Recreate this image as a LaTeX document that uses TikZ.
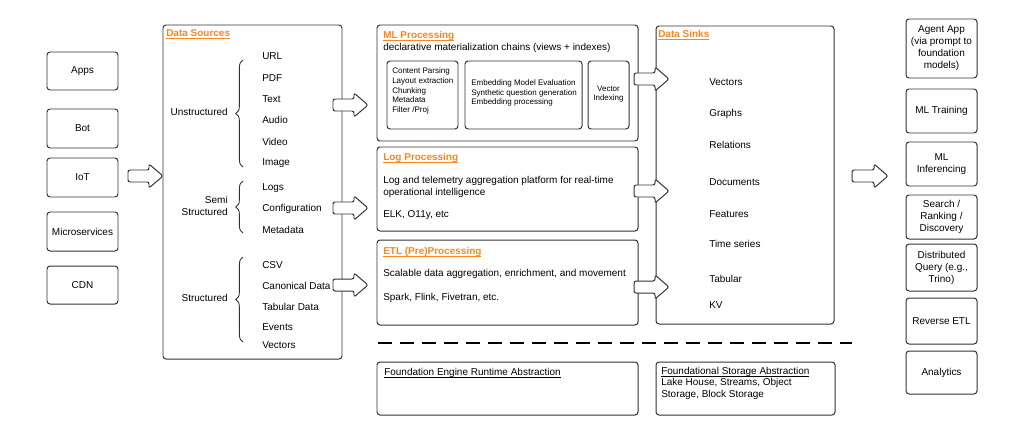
\documentclass[tikz,border=0pt]{standalone}
\usepackage{fontspec}
\setmainfont{Liberation Sans}
\usetikzlibrary{decorations.pathreplacing}

\definecolor{edge}{RGB}{51,51,51}
\definecolor{heading}{RGB}{255,133,27}

\newcommand{\ul}[1]{\underline{\smash{#1}}}

\tikzset{
  txt/.style={inner sep=0pt, text=black, font=\fontsize{7.1}{8.5}\selectfont},
  small/.style={inner sep=0pt, text=black, align=left, font=\fontsize{5.7}{6.8}\selectfont},
  box/.style={txt, draw=edge, line width=0.7pt, rounded corners=2.2pt, fill=white, align=center},
  size/.style 2 args={minimum width=#1*0.025cm, minimum height=#2*0.025cm},
  title/.style={txt, anchor=base west, text=heading, font=\fontsize{7.1}{8.5}\selectfont\bfseries},
  item/.style={txt, anchor=west},
  fatarrow/.style={draw=edge, line width=0.7pt, fill=white, rounded corners=1.5pt},
  curly/.style={decorate, decoration={brace, amplitude=0.18cm}, draw=edge, line width=0.6pt},
  dashline/.style={draw=black, line width=1.1pt, dash pattern=on 0.35cm off 0.2cm},
}

% tail x, tip x, y
\newcommand{\bigarrow}[3]{%
  \draw[fatarrow] (#1,#3-6) -- ({#2-14},#3-6) -- ({#2-14},#3-12) -- (#2,#3)
    -- ({#2-14},#3+12) -- ({#2-14},#3+6) -- (#1,#3+6) -- cycle;}

\begin{document}
\begin{tikzpicture}[x=0.025cm, y=-0.025cm]
\useasboundingbox (0,0) rectangle (1024,436);

% producers
\node[box, size={71}{38}] (apps) at (82.5,71) {Apps};
\node[box, size={71}{39}] (bot) at (82.5,128.5) {Bot};
\node[box, size={71}{39}] (iot) at (82.5,177.5) {IoT};
\node[box, size={71}{39}] (micro) at (82.5,231.5) {Microservices};
\node[box, size={71}{38}] (cdn) at (82.5,285) {CDN};

% data sources
\node[box, size={179}{334}] (sources) at (252.5,192) {};
\node[title] (sourcestitle) at (166,36) {\ul{Data Sources}};
\node[txt, anchor=east] (unstr) at (228,112) {Unstructured};
\node[txt, anchor=east, align=right] (semi) at (228,206) {Semi\\Structured};
\node[txt, anchor=east] (struct) at (228,298) {Structured};
\draw[curly] (243,167) -- (243,60);
\draw[curly] (243,233) -- (243,181);
\draw[curly] (243,342) -- (243,257);
\foreach \name/\y [count=\i] in {URL/56, PDF/78, Text/99, Audio/120, Video/142, Image/163,
    Logs/188, Configuration/209, Metadata/230,
    CSV/265, Canonical Data/286, Tabular Data/307, Events/327, Vectors/345}
  \node[item] (src\i) at (262,\y) {\name};

% processing
\node[box, size={261}{116}] (ml) at (507.5,83) {};
\node[title] (mltitle) at (383,38.5) {\ul{ML Processing}};
\node[item] (mlsub) at (383,47.5) {declarative materialization chains (views + indexes)};
\node[box, size={71}{68}] (parse) at (422.5,95) {};
\node[small, anchor=west] (parsetxt) at (392,91)
  {Content Parsing\\Layout extraction\\Chunking\\Metadata\\Filter /Proj};
\node[box, size={117}{68}] (embed) at (523.5,95) {};
\node[small, anchor=west] (embedtxt) at (471,93)
  {Embedding Model Evaluation\\Synthetic question generation\\Embedding processing};
\node[box, size={41}{68}] (index) at (608.5,95) {};
\node[small, align=center] (indextxt) at (608.5,94) {Vector\\Indexing};

\node[box, size={261}{84}] (log) at (507.5,189) {};
\node[title] (logtitle) at (383,160) {\ul{Log Processing}};
\node[item, align=left] (logtxt) at (383,187)
  {Log and telemetry aggregation platform for real-time\\operational intelligence};
\node[item] (logtools) at (383,215) {ELK, O11y, etc};

\node[box, size={261}{85}] (etl) at (507.5,282.5) {};
\node[title] (etltitle) at (383,254) {\ul{ETL (Pre)Processing}};
\node[item] (etltxt) at (383,274) {Scalable data aggregation, enrichment, and movement};
\node[item] (etltools) at (383,298) {Spark, Flink, Fivetran, etc.};

% data sinks
\node[box, size={178}{298}] (sinks) at (745,175) {};
\node[title] (sinkstitle) at (658,37) {\ul{Data Sinks}};
\foreach \name/\y [count=\i] in {Vectors/82, Graphs/114, Relations/145, Documents/182,
    Features/214, Time series/244, Tabular/279, KV/305}
  \node[item] (sink\i) at (709,\y) {\name};

% consumers
\node[box, size={71}{59}] (agent) at (941.5,48.5) {Agent App\\(via prompt to\\foundation\\models)};
\node[box, size={71}{44}] (train) at (941.5,111) {ML Training};
\node[box, size={71}{44}] (infer) at (941.5,164) {ML\\Inferencing};
\node[box, size={71}{44}] (search) at (941.5,217) {Search /\\Ranking /\\Discovery};
\node[box, size={71}{47}] (query) at (941.5,267.5) {Distributed\\Query (e.g.,\\Trino)};
\node[box, size={71}{46}] (retl) at (941.5,321) {Reverse ETL};
\node[box, size={71}{43}] (analytics) at (941.5,372.5) {Analytics};

% arrows
\bigarrow{128}{163}{176}
\bigarrow{333}{368}{105}
\bigarrow{333}{368}{208}
\bigarrow{333}{368}{285}
\bigarrow{634}{669}{79}
\bigarrow{634}{669}{191}
\bigarrow{634}{669}{287}
\bigarrow{852}{888}{176}

% foundation layer
\coordinate (sepl) at (378,343);
\coordinate (sepr) at (852,343);
\draw[dashline] (sepl) -- (sepr);
\node[box, size={261}{53}] (engine) at (507.5,388.5) {};
\node[txt, anchor=base west] (enginetxt) at (384,375.5) {\ul{Foundation Engine Runtime Abstraction}};
\node[box, size={179}{53}] (storage) at (745.5,388.5) {};
\node[item, align=left] (storagetxt) at (661,387)
  {\ul{Foundational Storage Abstraction}\\Lake House, Streams, Object\\Storage, Block Storage};
\end{tikzpicture}
\end{document}
